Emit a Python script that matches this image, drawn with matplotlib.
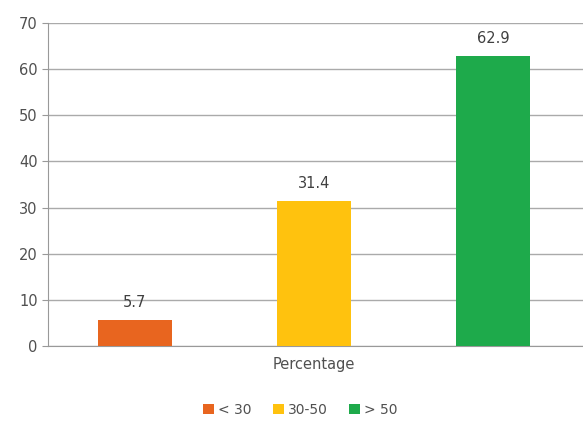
import matplotlib.pyplot as plt
import numpy as np

# datos
series = ['< 30', '30-50', '> 50']
valores = [5.7, 31.4, 62.9]
colores = ['#E8651F', '#FFC20E', '#1EAA4B']
categoria = 'Percentage'

fig = plt.figure(figsize=(5.83, 4.26), dpi=100)
ax = fig.add_axes([0.0823, 0.188, 0.9177, 0.758])

x = np.array([-1, 0, 1])
ancho = 0.41
for i in range(len(series)):
    b = ax.bar(x[i], valores[i], ancho, color=colores[i], label=series[i], zorder=3)
    ax.bar_label(b, labels=[str(valores[i])], padding=7, fontsize=10.5, color='#404040')

ax.set_xlim(-1.486, 1.503)
ax.set_ylim(0, 70)
ax.set_yticks(range(0, 71, 10))
ax.set_xticks([0])
ax.set_xticklabels([categoria])
ax.tick_params(axis='x', length=0, labelsize=10.5, labelcolor='#505050', pad=8)
ax.tick_params(axis='y', length=4, labelsize=10.5, labelcolor='#505050', color='#999999')
ax.yaxis.grid(True, color='#AAAAAA', linewidth=1, zorder=0)
for s in ['top', 'right']:
    ax.spines[s].set_visible(False)
ax.spines['left'].set_color('#999999')
ax.spines['bottom'].set_color('#999999')

fig.legend(loc='center', bbox_to_anchor=(0.515, 0.038), ncol=3, frameon=False,
           fontsize=10, handlelength=0.8, handleheight=0.8, columnspacing=1.5,
           handletextpad=0.3, labelcolor='#505050')

plt.savefig('out.png')
